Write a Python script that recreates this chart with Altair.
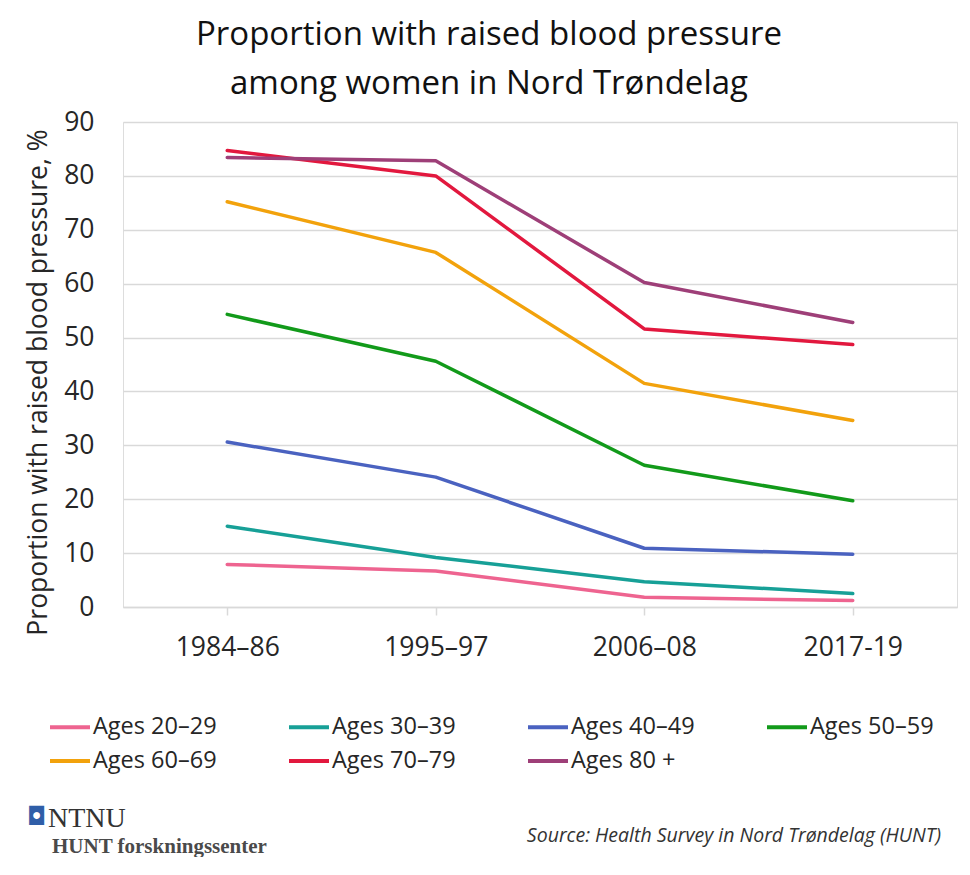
import altair as alt
import pandas as pd

periods = ["1984–86", "1995–97", "2006–08", "2017-19"]
groups = ["Ages 20–29", "Ages 30–39", "Ages 40–49", "Ages 50–59",
          "Ages 60–69", "Ages 70–79", "Ages 80 +"]
colors = ["#ee6490", "#17a097", "#4a62c0", "#129a1a", "#f2a20c", "#e2183e", "#9e3f78"]

v20 = [7.9, 6.7, 1.8, 1.2]
v30 = [15.0, 9.2, 4.7, 2.5]
v40 = [30.6, 24.1, 10.9, 9.8]
v50 = [54.3, 45.6, 26.3, 19.7]
v60 = [75.2, 65.8, 41.5, 34.6]
v70 = [84.7, 80.0, 51.6, 48.7]
v80 = [83.4, 82.8, 60.2, 52.8]
series = [v20, v30, v40, v50, v60, v70, v80]

y_ticks = [0, 10, 20, 30, 40, 50, 60, 70, 80, 90]

title_lines = ["Proportion with raised blood pressure", "among women in Nord Trøndelag"]
y_title = "Proportion with raised blood pressure, %"
source_text = ["Source: Health Survey in Nord Trøndelag (HUNT)"]
logo_glyph = ["◘"]
logo_text = ["NTNU"]
hunt_text = ["HUNT forskningssenter"]

rows = []
for g, vals in zip(groups, series):
    for p, v in zip(periods, vals):
        rows.append({"period": p, "group": g, "value": v})
df = pd.DataFrame(rows)

SANS = "Open Sans"
SERIF = "Liberation Serif"

lines = alt.Chart(df).mark_line(strokeWidth=3.5, strokeCap="round", strokeJoin="round").encode(
    x=alt.X("period:N", sort=periods,
            scale=alt.Scale(type="point", padding=0.5),
            axis=alt.Axis(title=None, labelAngle=0, labelFont=SANS, labelFontSize=26.5,
                          labelColor="#262626", labelPadding=19, domainColor="#d9d9d9",
                          domainWidth=1.5, tickColor="#d9d9d9", tickSize=8, tickWidth=1.5,
                          grid=False)),
    y=alt.Y("value:Q", scale=alt.Scale(domain=[0, 90], nice=False, zero=True),
            axis=alt.Axis(title=y_title, values=y_ticks, titleFont=SANS, titleFontSize=26.5,
                          titleFontWeight="normal", titleColor="#262626", titlePadding=11,
                          titleY=260,
                          labelFont=SANS, labelFontSize=26.5, labelColor="#262626",
                          labelPadding=29, domain=False, ticks=False, grid=True,
                          gridColor="#d9d9d9", gridWidth=1.5)),
    color=alt.Color("group:N", sort=groups,
                    scale=alt.Scale(domain=groups, range=colors),
                    legend=alt.Legend(title=None, orient="none", legendX=-75, legendY=583,
                                      direction="horizontal", columns=4, gridAlign="all",
                                      columnPadding=64, rowPadding=-8,
                                      symbolType="stroke", symbolSize=1600,
                                      symbolStrokeWidth=4, labelOffset=1,
                                      labelFont=SANS, labelFontSize=23.5,
                                      labelColor="#262626", labelLimit=300)),
)

def txt(values, x, y, **kw):
    return alt.Chart(pd.DataFrame({"t": values})).mark_text(**kw).encode(
        text="t:N", x=alt.value(x), y=alt.value(y))

logo = txt(logo_glyph, -86, 695, font="DejaVu Sans", fontSize=25, color="#2f5ea8",
           align="center", baseline="middle")
ntnu = txt(logo_text, -75, 705, font=SERIF, fontSize=28, color="#333333",
           align="left", baseline="alphabetic")
hunt = txt(hunt_text, -71, 731, font=SERIF, fontSize=21, fontWeight="bold",
           color="#4a4a4a", align="left", baseline="alphabetic")
source = txt(source_text, 818, 720, font=SANS, fontSize=19.5, fontStyle="italic",
             color="#333333", align="right", baseline="alphabetic")

chart = alt.layer(lines, logo, ntnu, hunt, source).properties(
    width=834, height=485,
    title=alt.TitleParams(text=title_lines, font=SANS, fontSize=33, fontWeight="normal",
                          color="#111111", anchor="middle", dx=-51, offset=8,
                          lineHeight=49),
    autosize=alt.AutoSizeParams(type="none"),
    padding={"left": 115, "top": 114, "right": 5, "bottom": 250},
).configure_view(stroke=None).configure(background="white")

chart.save("out.html", embed_options={"renderer": "svg", "actions": False})
